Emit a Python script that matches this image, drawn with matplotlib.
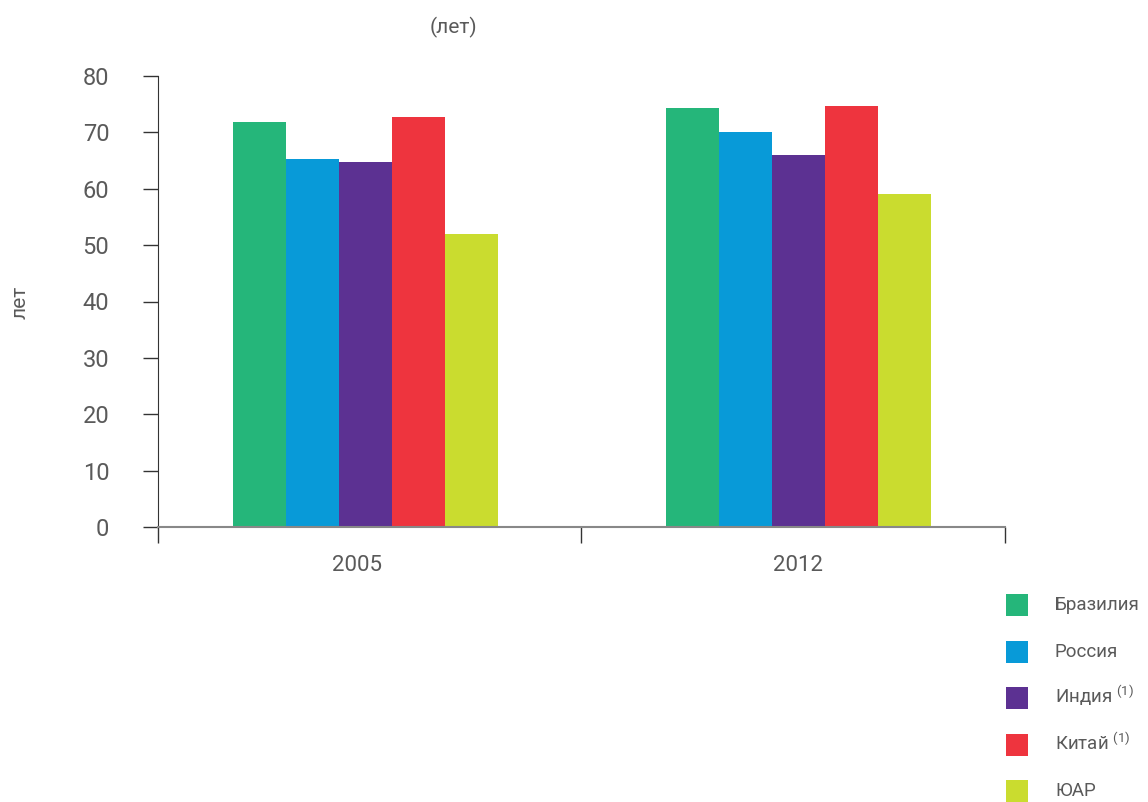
import matplotlib
matplotlib.use("Agg")
import matplotlib.pyplot as plt
import numpy as np

# Data
years = ['2005', '2012']
countries = ['Бразилия', 'Россия', 'Индия', 'Китай', 'ЮАР']
footnotes = ['', '', '(1)', '(1)', '']
values = {
    'Бразилия': [71.8, 74.3],
    'Россия':   [65.2, 70.0],
    'Индия':    [64.7, 66.0],
    'Китай':    [72.7, 74.6],
    'ЮАР':      [52.0, 59.0],
}
colors = ['#25b67a', '#089ad8', '#5c3192', '#ee343e', '#cadc2f']
y_ticks = [0, 10, 20, 30, 40, 50, 60, 70, 80]

plt.rcParams['font.family'] = ['Roboto', 'DejaVu Sans']
plt.rcParams['mathtext.default'] = 'regular'
text_col = '#5a5a5a'

W, H = 1148, 802
fig = plt.figure(figsize=(W / 100, H / 100), dpi=100)
ax = fig.add_axes([158 / W, 1 - 527 / H, (1005 - 158) / W, (527 - 76) / H])

x = np.arange(len(years))
bw = 0.1224
for i, c in enumerate(countries):
    ax.bar(x + (i - 2) * bw, values[c], width=bw, color=colors[i])

x_lo, x_hi = -0.479, 1.477
ax.set_xlim(x_lo, x_hi)
ax.set_ylim(0, 80)
ax.set_yticks(y_ticks)

ax.spines['top'].set_visible(False)
ax.spines['right'].set_visible(False)
ax.spines['left'].set_color('#333333')
ax.spines['bottom'].set_color('#888888')
ax.spines['bottom'].set_linewidth(1.5)

ax.set_xticks(x - np.array([0.02, 0.0]))
ax.set_xticklabels(years)
ax.set_xticks([x_lo, 0.498, x_hi], minor=True)
ax.tick_params(axis='x', which='major', length=0, pad=20, labelsize=16, labelcolor=text_col)
ax.tick_params(axis='x', which='minor', length=11.5, width=1, color='#333333')
ax.tick_params(axis='y', length=11, width=1, color='#333333', pad=24,
               labelsize=17, labelcolor=text_col)

fig.text(20 / W, 1 - 302 / H, 'лет', rotation=90, ha='center', va='center',
         fontsize=15, color=text_col)
fig.text(453 / W, 1 - 27 / H, '(лет)', ha='center', va='center',
         fontsize=15, color=text_col)

# Legend, drawn by hand for even row spacing
row0, step, sq = 605, 46.5, 22
for i, c in enumerate(countries):
    yc = row0 + i * step
    fig.add_artist(plt.Rectangle((1006 / W, 1 - (yc + sq / 2) / H), sq / W, sq / H,
                                 transform=fig.transFigure, color=colors[i], lw=0))
    label = c if not footnotes[i] else c + r' $^{' + footnotes[i] + '}$'
    fig.text(1055 / W, 1 - (yc + 5.5) / H, label, ha='left', va='baseline',
             fontsize=13.5, color=text_col)

fig.savefig('out.png', dpi=100)
